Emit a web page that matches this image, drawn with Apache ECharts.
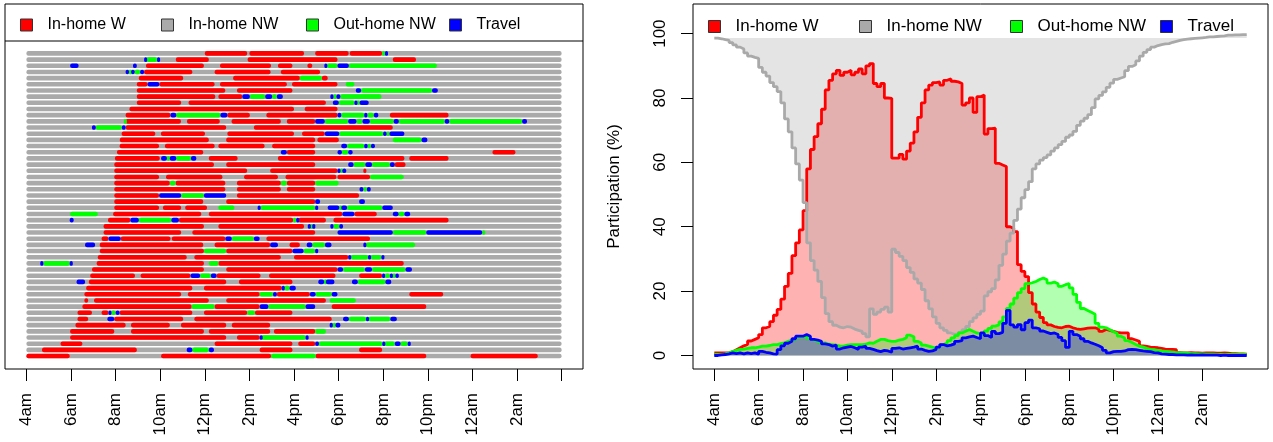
<!DOCTYPE html>
<html>
<head>
<meta charset="utf-8">
<title>Activity sequences and participation</title>
<script src="https://cdn.jsdelivr.net/npm/echarts@6.0.0/dist/echarts.min.js"></script>
<style>
  html, body { margin: 0; padding: 0; background: #fff; }
  #chart { width: 1273px; height: 442px; }
</style>
</head>
<body>
<div id="chart"></div>
<script>
// states, colours and the hour ticks shared by both panels
var stateNames = ['In-home W', 'In-home NW', 'Out-home NW', 'Travel']
var stateColors = ['#FF0000', '#AAAAAA', '#00FF00', '#0000FF']
var tickHours = [4, 6, 8, 10, 12, 14, 16, 18, 20, 22, 24, 26, 28]
var tickLabels = ['4am', '6am', '8am', '10am', '12pm', '2pm', '4pm', '6pm', '8pm', '10pm', '12am', '2am', '4am']
var dayStart = 4
var dayEnd = 28

// left panel: one row per person, episodes [state, start hour, end hour]
// W = in-home work, O = out-of-home non-work, T = travel, rest is in-home non-work
var seqRows = [
  [['W', 12.0, 13.9], ['W', 14.0, 16.45], ['W', 16.95, 18.45], ['W', 18.5, 19.95], ['O', 19.95, 20.08], ['T', 20.08, 20.2]],
  [['T', 9.28, 9.36], ['O', 9.36, 9.86], ['T', 9.86, 9.97], ['W', 10.7, 12.18], ['W', 13.92, 17.95], ['W', 20.43, 21.47]],
  [['T', 5.96, 6.34], ['T', 8.78, 8.95], ['W', 9.36, 11.96], ['W', 12.68, 14.97], ['W', 15.28, 15.93], ['W', 16.6, 16.82], ['T', 17.36, 17.48], ['O', 17.48, 17.95], ['T', 17.95, 18.46], ['O', 18.46, 22.41]],
  [['T', 8.45, 8.6], ['O', 8.6, 8.7], ['T', 8.7, 8.85], ['O', 8.85, 9.1], ['T', 9.1, 9.28], ['W', 9.28, 11.44], ['W', 12.44, 14.95], ['W', 15.41, 17.17]],
  [['W', 9.04, 11.03], ['W', 13.27, 16.26], ['O', 16.26, 17.25], ['W', 17.25, 17.51]],
  [['W', 8.95, 9.43], ['T', 9.43, 9.96], ['W', 9.96, 12.44], ['W', 12.68, 15.68], ['W', 15.91, 17.95], ['O', 18.32, 18.71]],
  [['W', 8.95, 12.92], ['W', 13.44, 15.93], ['T', 18.77, 19.01], ['O', 19.01, 22.19], ['T', 22.19, 22.45]],
  [['W', 8.95, 12.47], ['W', 12.61, 13.68], ['T', 13.68, 14.02], ['O', 14.02, 14.71], ['T', 14.71, 15.02], ['O', 15.02, 15.23], ['T', 15.23, 15.5], ['T', 17.63, 17.77], ['O', 17.77, 17.9], ['T', 17.9, 18.08], ['O', 18.08, 19.92]],
  [['W', 8.95, 10.94], ['W', 11.27, 17.43], ['T', 17.74, 18.01], ['O', 18.01, 18.71], ['T', 18.71, 18.8], ['O', 18.8, 18.94], ['T', 18.94, 19.35]],
  [['W', 8.62, 16.0], ['W', 16.48, 17.95]],
  [['W', 8.45, 10.46], ['T', 10.46, 10.72], ['O', 10.72, 12.7], ['T', 12.7, 13.01], ['W', 13.01, 14.02], ['W', 14.76, 17.95], ['T', 17.95, 18.12], ['O', 18.12, 19.15], ['T', 19.15, 19.29], ['O', 19.29, 19.58], ['T', 19.58, 19.78], ['W', 20.3, 22.93]],
  [['O', 8.37, 8.45], ['W', 8.45, 10.93], ['W', 11.2, 12.67], ['W', 13.2, 15.41], ['W', 15.68, 16.95], ['T', 16.95, 17.38], ['O', 17.38, 18.43], ['T', 18.43, 18.8], ['O', 18.8, 19.07], ['T', 19.07, 19.4], ['O', 19.4, 20.47], ['T', 20.47, 20.7], ['O', 20.7, 22.76], ['T', 22.76, 22.96], ['O', 22.96, 26.23], ['T', 26.23, 26.45]],
  [['T', 6.94, 7.11], ['O', 7.11, 8.28], ['T', 8.28, 8.45], ['W', 8.45, 12.96], ['W', 14.2, 20.43]],
  [['W', 8.27, 9.78], ['W', 10.03, 12.01], ['W', 13.01, 16.0], ['W', 16.36, 17.38], ['T', 17.38, 18.03], ['O', 18.03, 20.0], ['T', 20.0, 20.15], ['O', 20.15, 20.28], ['T', 20.28, 20.95]],
  [['W', 8.19, 12.18], ['W', 12.96, 16.95], ['W', 17.05, 18.01], ['O', 20.43, 21.72], ['T', 21.72, 21.98]],
  [['W', 8.18, 9.95], ['W', 10.21, 12.44], ['W', 12.61, 14.68], ['W', 15.02, 16.95], ['T', 18.12, 18.38], ['O', 18.38, 19.15], ['T', 19.15, 19.3], ['O', 19.3, 19.45], ['T', 19.45, 19.63]],
  [['W', 8.06, 11.93], ['T', 15.41, 15.68], ['W', 15.68, 16.95], ['T', 17.95, 18.15], ['O', 18.15, 18.43], ['T', 18.43, 18.63], ['W', 24.9, 25.93]],
  [['W', 7.97, 9.98], ['T', 10.04, 10.3], ['O', 10.3, 10.43], ['T', 10.43, 10.72], ['O', 10.72, 11.38], ['T', 11.38, 11.62], ['W', 12.18, 13.47], ['W', 15.28, 20.95], ['W', 21.17, 22.93]],
  [['W', 7.94, 12.41], ['W', 12.96, 16.95], ['T', 18.43, 18.67], ['O', 18.67, 19.2], ['T', 19.2, 19.5], ['O', 19.5, 20.3], ['T', 20.3, 20.52], ['W', 20.52, 21.0]],
  [['W', 7.94, 13.9], ['W', 14.93, 17.95], ['T', 17.95, 18.08], ['O', 18.08, 18.17], ['T', 18.17, 18.34], ['W', 19.11, 19.23]],
  [['W', 7.94, 9.95], ['W', 10.26, 12.79], ['W', 13.76, 15.28], ['W', 15.62, 17.9], ['W', 17.95, 19.41], ['O', 19.41, 20.92]],
  [['W', 7.94, 10.43], ['O', 10.43, 10.69], ['W', 10.69, 12.92], ['W', 13.44, 15.41], ['O', 15.41, 15.68], ['W', 15.68, 16.95], ['O', 16.95, 18.0]],
  [['W', 7.94, 12.92], ['W', 13.44, 15.41], ['W', 15.68, 16.95], ['T', 18.94, 19.11], ['O', 19.11, 19.27], ['T', 19.27, 19.44]],
  [['W', 7.94, 9.95], ['T', 9.95, 10.94], ['O', 10.94, 11.96], ['T', 11.96, 12.96], ['W', 13.44, 18.92]],
  [['W', 7.94, 11.93], ['W', 12.96, 16.95], ['T', 16.95, 17.17], ['T', 18.92, 19.18]],
  [['W', 7.94, 9.95], ['W', 10.12, 10.94], ['W', 11.12, 12.1], ['O', 12.61, 13.33], ['T', 14.37, 14.5], ['O', 14.5, 16.95], ['T', 16.95, 17.05], ['T', 17.51, 18.03], ['O', 18.03, 18.12], ['T', 18.12, 18.38], ['O', 18.38, 19.96], ['T', 19.96, 20.43]],
  [['O', 5.96, 7.2], ['W', 7.89, 11.84], ['W', 12.18, 18.17], ['T', 18.17, 18.71], ['W', 18.71, 19.71], ['T', 20.43, 20.69], ['O', 20.69, 20.95], ['T', 20.95, 21.21]],
  [['T', 5.94, 6.12], ['W', 7.66, 8.66], ['T', 8.66, 9.04], ['O', 9.04, 10.5], ['T', 10.5, 10.84], ['W', 10.84, 15.96], ['O', 15.96, 16.1], ['T', 16.1, 16.19], ['W', 16.19, 17.43], ['W', 17.77, 22.93]],
  [['W', 7.46, 11.96], ['W', 12.61, 16.45], ['T', 16.62, 16.74], ['O', 16.74, 16.82], ['T', 16.82, 16.9], ['T', 17.63, 17.77], ['O', 17.77, 18.03], ['T', 18.03, 18.2]],
  [['W', 7.46, 10.94], ['W', 11.44, 16.95], ['T', 17.95, 20.43], ['O', 20.43, 21.93], ['T', 21.93, 24.44], ['O', 24.44, 24.56]],
  [['W', 7.37, 7.68], ['T', 7.68, 8.23], ['W', 8.23, 10.46], ['W', 10.52, 12.92], ['T', 12.92, 13.21], ['O', 13.21, 14.2], ['T', 14.2, 14.46], ['W', 14.76, 19.41]],
  [['T', 6.63, 7.08], ['W', 7.29, 11.93], ['W', 12.44, 14.93], ['T', 14.93, 15.28], ['W', 15.8, 16.26], ['T', 16.57, 16.82], ['O', 16.82, 17.39], ['T', 17.39, 17.68], ['T', 19.11, 19.23], ['O', 19.23, 21.43]],
  [['W', 7.29, 11.96], ['O', 11.96, 12.96], ['W', 12.96, 15.93], ['T', 15.93, 16.43], ['O', 16.43, 16.95], ['T', 16.95, 17.02]],
  [['W', 7.2, 11.19], ['W', 11.53, 15.41], ['W', 16.0, 18.43], ['T', 18.43, 18.55], ['O', 18.55, 19.32], ['T', 19.32, 19.44], ['O', 19.44, 19.92], ['T', 19.92, 20.04]],
  [['T', 4.62, 4.76], ['O', 4.76, 5.94], ['T', 5.94, 6.08], ['W', 7.15, 11.96], ['O', 12.18, 12.61], ['W', 12.61, 20.92]],
  [['W', 6.94, 11.96], ['W', 12.96, 17.95], ['T', 17.95, 18.2], ['O', 18.2, 19.18], ['T', 19.18, 19.5], ['O', 19.5, 21.0], ['T', 21.0, 21.29]],
  [['W', 6.86, 8.87], ['W', 9.12, 11.36], ['T', 11.36, 11.79], ['O', 11.79, 12.27], ['T', 12.27, 12.53], ['W', 12.53, 14.5], ['W', 14.88, 17.86], ['W', 18.92, 19.95], ['T', 19.95, 20.08], ['O', 20.08, 20.3], ['T', 20.3, 20.42], ['O', 20.42, 20.55], ['T', 20.55, 20.7]],
  [['T', 6.25, 6.63], ['W', 6.8, 12.96], ['W', 13.53, 15.93], ['T', 17.09, 17.35], ['O', 17.35, 17.43], ['T', 17.43, 17.81], ['T', 18.6, 18.86], ['O', 18.86, 20.1], ['T', 20.1, 20.36]],
  [['W', 6.68, 11.44], ['W', 11.96, 15.45], ['T', 15.45, 15.57], ['O', 15.57, 15.8], ['T', 15.8, 16.08]],
  [['W', 6.6, 10.94], ['W', 11.24, 14.46], ['O', 14.46, 15.06], ['T', 15.06, 15.23], ['W', 15.23, 16.71], ['T', 16.71, 16.97], ['O', 16.97, 17.69], ['T', 17.69, 17.95], ['W', 21.17, 22.69]],
  [['W', 6.6, 6.77], ['W', 7.03, 12.18], ['W', 12.96, 17.43], ['O', 17.6, 18.77]],
  [['W', 6.51, 11.41], ['O', 11.41, 12.44], ['W', 12.44, 14.46], ['T', 14.46, 14.85], ['O', 14.85, 16.52], ['T', 16.52, 16.95], ['W', 17.69, 21.93]],
  [['W', 6.29, 6.94], ['W', 7.37, 7.68], ['T', 7.68, 7.8], ['O', 7.8, 8.0], ['T', 8.0, 8.18], ['W', 8.18, 11.44], ['W', 11.96, 13.9], ['O', 13.9, 14.25], ['W', 14.25, 15.93]],
  [['W', 6.29, 6.77], ['T', 7.63, 7.94], ['W', 7.94, 11.03], ['W', 11.53, 17.69], ['T', 18.2, 18.46], ['O', 18.46, 19.23], ['T', 19.23, 19.32], ['O', 19.32, 20.32], ['T', 20.32, 20.61]],
  [['W', 6.2, 8.45], ['W', 8.69, 10.43], ['W', 10.93, 12.96], ['W', 13.21, 14.93], ['T', 17.6, 17.74], ['O', 17.74, 17.86], ['T', 17.86, 18.08]],
  [['W', 5.96, 7.94], ['W', 8.69, 11.96], ['W', 12.18, 14.93], ['W', 15.1, 16.95], ['O', 16.95, 17.43]],
  [['W', 5.96, 12.96], ['W', 13.44, 14.46], ['T', 14.46, 14.54], ['O', 14.54, 16.52], ['T', 16.52, 16.62]],
  [['W', 5.53, 6.51], ['W', 12.44, 15.93], ['W', 16.19, 16.95], ['T', 16.95, 17.12], ['O', 17.12, 19.96], ['T', 19.96, 20.05], ['O', 20.05, 20.52], ['T', 20.52, 20.78], ['O', 20.78, 21.1], ['T', 21.1, 21.2]],
  [['W', 4.7, 8.95], ['T', 11.19, 11.44], ['O', 11.44, 12.18], ['T', 12.18, 12.41], ['W', 14.46, 15.93], ['W', 18.92, 19.95]],
  [['W', 4.0, 5.94], ['W', 10.04, 14.97], ['O', 14.97, 16.97], ['W', 16.97, 21.93], ['W', 23.92, 26.93]]
]

// right panel: participation (%) in 10-minute slots from 4am to 4am
var inHomeW = [
  0.8, 0.8, 0.8, 0.8, 1.2, 1.8, 2.4, 3.0, 3.4, 4.5, 5.0, 5.5,
  6.5, 8.6, 9.0, 10.5, 12.5, 14.3, 17.5, 21.5, 25.5, 31.0, 35.0, 39.0,
  45.0, 58.0, 64.0, 68.0, 72.0, 76.5, 82.5, 85.5, 87.5, 88.6, 87.0, 88.0,
  88.6, 87.2, 88.0, 89.0, 87.5, 90.0, 90.7, 84.5, 83.5, 84.5, 80.0, 79.9,
  61.3, 61.3, 62.5, 61.0, 63.5, 66.0, 69.5, 74.0, 78.5, 82.5, 84.0, 84.8,
  85.0, 84.0, 85.5, 86.0, 85.2, 85.0, 84.5, 77.8, 78.5, 80.0, 75.5, 80.4,
  80.9, 68.8, 70.5, 70.6, 59.7, 59.2, 58.7, 40.0, 39.5, 38.5, 28.2, 26.1,
  24.5, 19.5, 16.0, 13.5, 11.8, 10.2, 9.5, 9.0, 8.7, 8.6, 9.0, 9.1,
  8.6, 8.3, 8.1, 8.3, 8.5, 8.6, 8.6, 8.2, 7.5, 8.1, 7.8, 7.5,
  7.2, 7.0, 7.0, 7.0, 5.2, 4.8, 4.4, 3.0, 2.8, 2.6, 2.5, 2.4,
  2.2, 2.0, 1.9, 1.9, 1.8, 0.9, 0.8, 0.8, 0.9, 0.8, 0.8, 0.7,
  0.8, 0.8, 0.8, 0.7, 0.7, 0.8, 0.7, 0.6, 0.6, 0.5, 0.5, 0.4, 0.4
]
var inHomeNW = [
  98.6, 98.4, 98.1, 97.9, 97.2, 96.5, 95.8, 95.2, 94.0, 93.0, 92.6, 92.3,
  89.5, 88.0, 86.8, 84.8, 83.5, 82.0, 78.5, 73.5, 69.5, 64.5, 59.5, 54.5,
  47.5, 35.0, 29.5, 26.5, 23.0, 18.0, 13.0, 10.5, 9.4, 8.8, 8.6, 9.0,
  8.8, 8.2, 7.8, 7.5, 6.8, 5.8, 14.5, 12.8, 13.5, 14.3, 15.0, 13.5,
  33.0, 32.0, 30.8, 29.5, 27.3, 25.8, 23.8, 22.5, 20.5, 17.0, 14.5, 12.0,
  10.0, 8.6, 7.8, 7.0, 6.6, 6.5, 7.2, 8.0, 9.0, 10.5, 11.7, 12.8,
  13.8, 18.5, 19.8, 20.8, 23.5, 28.0, 31.5, 35.5, 38.0, 42.0, 45.5, 49.0,
  51.5, 54.0, 58.0, 59.5, 60.7, 61.5, 62.3, 63.5, 64.5, 65.5, 66.5, 67.8,
  68.5, 69.6, 71.5, 72.8, 73.7, 74.8, 77.0, 79.7, 80.8, 81.9, 83.3, 84.6,
  85.8, 86.2, 86.6, 88.5, 89.8, 90.3, 91.5, 93.0, 94.2, 95.0, 95.8, 96.3,
  96.6, 96.8, 96.9, 97.3, 97.6, 97.9, 98.1, 98.3, 98.4, 98.5, 98.6, 98.7,
  98.8, 99.0, 99.0, 99.1, 99.2, 99.3, 99.5, 99.5, 99.6, 99.6, 99.7, 99.7, 99.7
]
var outHomeNW = [
  0.3, 0.3, 0.5, 0.8, 1.2, 1.6, 1.9, 2.0, 2.2, 2.4, 2.4, 2.6,
  2.9, 2.9, 3.1, 3.4, 3.4, 3.7, 3.9, 4.4, 4.8, 5.0, 5.7, 5.8,
  6.0, 5.3, 4.8, 4.4, 3.9, 3.9, 3.5, 3.4, 3.2, 2.9, 2.9, 3.2,
  3.4, 3.4, 3.4, 3.4, 3.5, 3.9, 3.8, 4.4, 5.0, 5.0, 4.6, 4.4,
  4.4, 4.8, 5.0, 5.5, 6.3, 5.8, 4.4, 3.9, 3.2, 2.9, 2.6, 2.4,
  2.6, 3.4, 3.9, 4.6, 5.5, 6.2, 7.0, 7.5, 8.1, 7.5, 7.0, 6.8,
  6.6, 7.6, 8.4, 9.1, 9.5, 10.4, 12.0, 14.6, 16.0, 17.8, 19.5, 20.8,
  22.3, 22.6, 23.0, 23.6, 24.1, 23.5, 22.5, 22.8, 22.3, 21.5, 22.0, 22.3,
  21.0, 19.0, 16.5, 14.6, 14.0, 13.4, 12.8, 10.0, 8.8, 8.6, 8.0, 7.4,
  6.8, 6.0, 5.4, 4.6, 4.0, 3.4, 2.9, 2.6, 2.2, 1.9, 1.8, 1.6,
  1.4, 1.3, 1.2, 1.0, 0.9, 0.8, 0.8, 0.7, 0.6, 0.6, 0.5, 0.5,
  0.4, 0.4, 0.4, 0.3, 0.3, 0.3, 0.3, 0.3, 0.3, 0.3, 0.3, 0.3, 0.3
]
var travel = [
  0.0, 0.2, 0.3, 0.5, 0.8, 0.6, 0.8, 0.5, 0.8, 0.6, 0.8, 0.4,
  1.3, 1.0, 0.8, 0.5, 0.4, 1.8, 3.0, 3.8, 4.4, 5.2, 6.0, 6.0,
  6.5, 6.0, 5.0, 4.8, 4.4, 3.6, 3.4, 2.9, 3.2, 2.0, 2.4, 2.6,
  2.8, 2.4, 1.9, 2.6, 2.9, 2.2, 1.9, 1.5, 1.2, 1.6, 1.4, 1.0,
  2.2, 2.4, 2.0, 2.2, 2.4, 2.6, 2.9, 2.0, 1.6, 1.3, 1.4, 1.9,
  2.6, 3.4, 3.0, 3.2, 3.6, 4.4, 4.6, 5.5, 5.8, 6.0, 5.6, 5.2,
  7.0, 6.2, 5.6, 7.5, 6.8, 7.2, 10.0, 14.0, 9.5, 8.8, 9.6, 8.0,
  10.2, 11.0, 8.6, 8.3, 7.6, 7.2, 6.8, 7.0, 6.5, 5.6, 4.6, 2.5,
  7.5, 6.5, 6.0, 5.2, 4.4, 3.9, 3.5, 3.0, 2.4, 1.6, 0.8, 1.2,
  1.3, 1.3, 1.4, 1.8, 1.9, 1.8, 1.6, 1.4, 1.3, 1.2, 0.9, 0.8,
  0.5, 0.4, 0.3, 0.3, 0.2, 0.2, 0.2, 0.1, 0.2, 0.1, 0.1, 0.2,
  0.1, 0.1, 0.1, 0.1, 0.0, 0.1, 0.0, 0.0, 0.0, 0.0, 0.0, 0.0, 0.0
]
var yTicks = [0, 20, 40, 60, 80, 100]

var font = 'Liberation Sans, Arial, sans-serif'

// slot start times, in hours after midnight
var slotHours = []
for (var i = 0; i < inHomeW.length; i++) {
  slotHours.push(dayStart + i / 6)
}
function pairs (values) {
  return values.map(function (v, i) { return [slotHours[i], v] })
}

// episodes per state for the sequence panel
var segData = { W: [], NW: [], O: [], T: [] }
seqRows.forEach(function (row, k) {
  segData.NW.push([k + 1, dayStart, dayEnd])
  row.forEach(function (ep) {
    segData[ep[0]].push([k + 1, ep[1], ep[2]])
  })
})

function renderSeg (params, api) {
  var row = api.value(0)
  var a = api.coord([api.value(1), row])
  var b = api.coord([api.value(2), row])
  var h = 4.6
  return {
    type: 'rect',
    shape: { x: a[0], y: a[1] - h / 2, width: Math.max(b[0] - a[0], 3), height: h, r: 2 },
    style: { fill: api.visual('color') }
  }
}

function hourLabel (v) {
  var idx = tickHours.indexOf(Math.round(v))
  return idx < 0 ? '' : tickLabels[idx]
}

function legendItem (idx, left, top, size) {
  return {
    left: left,
    top: top,
    padding: 0,
    icon: 'rect',
    itemWidth: 12,
    itemHeight: 12,
    selectedMode: false,
    data: [{
      name: stateNames[idx],
      itemStyle: { color: stateColors[idx], borderColor: '#333', borderWidth: 1 }
    }],
    textStyle: { fontFamily: font, fontSize: size, color: '#000', padding: [0, 0, 0, 10] }
  }
}

var chart = echarts.init(document.getElementById('chart'))

var xAxisBase = {
  type: 'value',
  position: 'bottom',
  min: 3.04,
  max: 28.96,
  axisLine: { show: false, onZero: false },
  splitLine: { show: false },
  axisTick: { length: 12, lineStyle: { color: '#000', width: 1 } },
  axisLabel: {
    rotate: 90,
    margin: 24,
    formatter: hourLabel,
    fontFamily: font,
    fontSize: 17,
    color: '#000'
  }
}

var option = {
  animation: false,
  backgroundColor: '#fff',
  grid: [
    { left: 5, right: 690, top: 4, bottom: 73, show: true, borderColor: '#000', borderWidth: 1 },
    { left: 693, right: 5, top: 4, bottom: 73, show: true, borderColor: '#000', borderWidth: 1 }
  ],
  legend: [
    legendItem(0, 20, 17, 16),
    legendItem(1, 161, 17, 16),
    legendItem(2, 306, 17, 16),
    legendItem(3, 449, 17, 16),
    legendItem(0, 708, 18, 17),
    legendItem(1, 859, 18, 17),
    legendItem(2, 1010, 18, 17),
    legendItem(3, 1160, 18, 17)
  ],
  xAxis: [
    echarts.util.merge({
      gridIndex: 0,
      axisTick: { customValues: tickHours },
      axisLabel: { customValues: tickHours.slice(0, 12) }
    }, xAxisBase),
    echarts.util.merge({
      gridIndex: 1,
      axisTick: { customValues: tickHours.slice(0, 12) },
      axisLabel: { customValues: tickHours.slice(0, 12) }
    }, xAxisBase)
  ],
  yAxis: [
    { gridIndex: 0, type: 'value', min: -7, max: 52.1, inverse: true, show: false },
    {
      gridIndex: 1,
      type: 'value',
      min: -4.2,
      max: 109.2,
      name: 'Participation (%)',
      nameLocation: 'middle',
      nameRotate: 90,
      nameGap: 70,
      nameTextStyle: { fontFamily: font, fontSize: 17, color: '#000' },
      axisLine: { show: false, onZero: false },
      splitLine: { show: false },
      axisTick: { customValues: yTicks, length: 12, lineStyle: { color: '#000', width: 1 } },
      axisLabel: { customValues: yTicks, rotate: 90, margin: 24, fontFamily: font, fontSize: 17, color: '#000' }
    }
  ],
  graphic: [
    // bottom edge of the legend box in the sequence panel
    { type: 'line', shape: { x1: 5, y1: 41, x2: 583, y2: 41 }, style: { stroke: '#000', lineWidth: 1 }, z: 10 }
  ],
  series: [
    { name: stateNames[1], type: 'custom', xAxisIndex: 0, yAxisIndex: 0, renderItem: renderSeg, encode: { x: [1, 2], y: 0 }, itemStyle: { color: stateColors[1] }, data: segData.NW },
    { name: stateNames[0], type: 'custom', xAxisIndex: 0, yAxisIndex: 0, renderItem: renderSeg, encode: { x: [1, 2], y: 0 }, itemStyle: { color: stateColors[0] }, data: segData.W },
    { name: stateNames[2], type: 'custom', xAxisIndex: 0, yAxisIndex: 0, renderItem: renderSeg, encode: { x: [1, 2], y: 0 }, itemStyle: { color: stateColors[2] }, data: segData.O },
    { name: stateNames[3], type: 'custom', xAxisIndex: 0, yAxisIndex: 0, renderItem: renderSeg, encode: { x: [1, 2], y: 0 }, itemStyle: { color: stateColors[3] }, data: segData.T },

    // area fills are semi-transparent and stack visually in drawing order
    {
      name: stateNames[0],
      type: 'line',
      xAxisIndex: 1,
      yAxisIndex: 1,
      step: 'end',
      showSymbol: false,
      lineStyle: { color: '#FF0000', width: 2.8 },
      itemStyle: { color: '#FF0000' },
      areaStyle: { color: 'rgba(255,0,0,0.3)', opacity: 1, origin: 0 },
      data: pairs(inHomeW)
    },
    {
      name: stateNames[1],
      type: 'line',
      xAxisIndex: 1,
      yAxisIndex: 1,
      step: 'end',
      showSymbol: false,
      lineStyle: { color: '#A9A9A9', width: 2.8 },
      itemStyle: { color: '#A9A9A9' },
      areaStyle: { color: 'rgba(169,169,169,0.31)', opacity: 1, origin: 98.6 },
      data: pairs(inHomeNW)
    },
    {
      name: stateNames[2],
      type: 'line',
      xAxisIndex: 1,
      yAxisIndex: 1,
      step: 'end',
      showSymbol: false,
      lineStyle: { color: '#00FF00', width: 2.8 },
      itemStyle: { color: '#00FF00' },
      areaStyle: { color: 'rgba(0,255,0,0.3)', opacity: 1, origin: 0 },
      data: pairs(outHomeNW)
    },
    {
      name: stateNames[3],
      type: 'line',
      xAxisIndex: 1,
      yAxisIndex: 1,
      step: 'end',
      showSymbol: false,
      lineStyle: { color: '#0000FF', width: 2.8 },
      itemStyle: { color: '#0000FF' },
      areaStyle: { color: 'rgba(0,0,255,0.3)', opacity: 1, origin: 0 },
      data: pairs(travel)
    }
  ]
}
chart.setOption(option)
</script>
</body>
</html>
